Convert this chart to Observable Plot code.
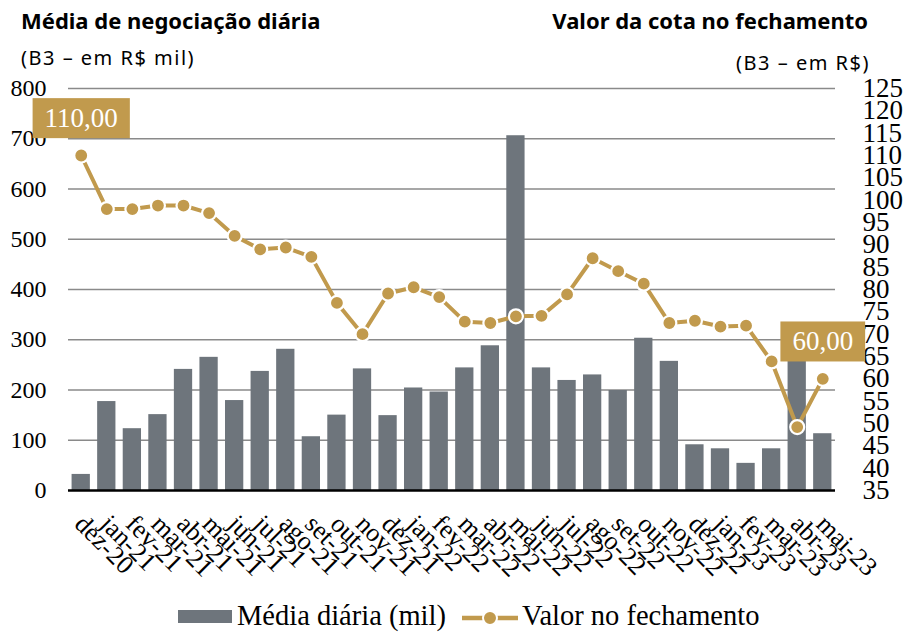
<!DOCTYPE html>
<html>
<head>
<meta charset="utf-8">
<script src="https://cdn.jsdelivr.net/npm/d3@7"></script>
<script src="https://cdn.jsdelivr.net/npm/@observablehq/plot@0.6"></script>
<style>
  html, body { margin: 0; padding: 0; background: #fff; }
  body { width: 910px; height: 632px; overflow: hidden; font-family: "Noto Sans", sans-serif; color: #000; }
  #hdr { position: relative; height: 78px; }
  #hdr div { position: absolute; white-space: nowrap; line-height: 1; }
  .ttl { font-weight: bold; font-size: 22px; top: 9px; }
  .sub { font-size: 20px; letter-spacing: 1.5px; }
  #chart { height: 517px; }
  #chart svg { display: block; }
  #legend { position: relative; height: 37px; font-family: "Liberation Serif", serif; font-size: 28.5px; }
  #legend > * { position: absolute; }
  #legend span { line-height: 28px; top: 7px; white-space: nowrap; }
</style>
</head>
<body>
<div id="hdr">
  <div class="ttl" style="left:21px">Média de negociação diária</div>
  <div class="ttl" style="right:42px">Valor da cota no fechamento</div>
  <div class="sub" style="left:21px; top:48px">(B3 – em R$ mil)</div>
  <div class="sub" style="right:40px; top:53px">(B3 – em R$)</div>
</div>
<div id="chart"></div>
<div id="legend"></div>
<script>
// ---- data ----
const months = ["dez-20","jan-21","fev-21","mar-21","abr-21","mai-21","jun-21","jul-21","ago-21","set-21","out-21","nov-21","dez-21","jan-22","fev-22","mar-22","abr-22","mai-22","jun-22","jul-22","ago-22","set-22","out-22","nov-22","dez-22","jan-23","fev-23","mar-23","abr-23","mai-23"];
const dailyAvg = [32,177,123,151,241,265,179,237,281,107,150,242,149,204,196,244,288,706,244,219,230,199,303,257,91,83,54,83,262,113];
const closeValue = [110,98,98,98.8,98.8,97.1,92,89,89.4,87.3,77,70,79.1,80.5,78.3,72.8,72.5,74,74.1,78.9,87,84.1,81.3,72.5,73,71.7,71.9,63.9,49.2,60];
const leftTicks = [0,100,200,300,400,500,600,700,800];
const rightTicks = [35,40,45,50,55,60,65,70,75,80,85,90,95,100,105,110,115,120,125];
const labelMonths = ["dez-20","mai-23"];
const labelTexts = ["110,00","60,00"];
const seriesNames = ["Média diária (mil)","Valor no fechamento"];

const barColor = "#6E757C";
const gold = "#C19A4D";

// right axis (35–125) shares the pixel range of the left axis (0–800)
const rMin = 35, rMax = 125, lMax = 800;
const toLeft = v => (v - rMin) * lMax / (rMax - rMin);
const toRight = v => v * (rMax - rMin) / lMax + rMin;

const data = months.map((m, i) => ({month: m, avg: dailyAvg[i], close: closeValue[i], closeY: toLeft(closeValue[i])}));
const labels = labelMonths.map((m, i) => ({month: m, closeY: toLeft(closeValue[months.indexOf(m)]), text: labelTexts[i]}));

const plot = Plot.plot({
  width: 910,
  height: 517,
  marginLeft: 68,
  marginRight: 75,
  marginTop: 10,
  marginBottom: 105,
  style: {background: "#fff", fontFamily: "'Liberation Serif', serif", color: "#000", overflow: "visible"},
  x: {type: "band", domain: months, paddingInner: 0.285, paddingOuter: 0.14, round: false, axis: null},
  y: {domain: [0, 800], axis: null},
  marks: [
    Plot.ruleY(leftTicks.filter(d => d > 0), {stroke: "#8a8a8a", strokeWidth: 1.3}),
    Plot.barY(data, {x: "month", y: "avg", fill: barColor}),
    Plot.ruleY([0], {stroke: "#000", strokeWidth: 2.5}),
    Plot.line(data, {x: "month", y: "closeY", stroke: gold, strokeWidth: 4}),
    Plot.dot(data, {x: "month", y: "closeY", r: 7, fill: gold, stroke: "#fff", strokeWidth: 2.2}),
    Plot.axisY(leftTicks, {anchor: "left", tickSize: 0, tickPadding: 22, fontSize: 24, label: null}),
    Plot.axisY(rightTicks.map(toLeft), {anchor: "right", tickSize: 0, tickPadding: 27, fontSize: 27, label: null,
      tickFormat: d => String(Math.round(toRight(d)))}),
    Plot.axisX(months, {anchor: "bottom", tickSize: 0, tickPadding: 29, tickRotate: 45, textAnchor: "start", lineAnchor: "middle", dx: -2, fontSize: 26, label: null}),
    Plot.text(labels, {x: "month", y: "closeY", text: "text", dy: -37, fill: "#fff", fontSize: 27, className: "vlabel"})
  ]
});
document.getElementById("chart").appendChild(plot);

// background boxes behind the value labels
d3.select(plot).selectAll("g.vlabel text").each(function() {
  const b = this.getBBox();
  const cy = b.y + b.height / 2;
  const parent = this.parentNode;
  const t = this.getAttribute("transform");
  const r = document.createElementNS("http://www.w3.org/2000/svg", "rect");
  r.setAttribute("x", b.x - 12);
  r.setAttribute("y", cy - 20);
  r.setAttribute("width", b.width + 24);
  r.setAttribute("height", 40);
  r.setAttribute("fill", gold);
  if (t) r.setAttribute("transform", t);
  parent.insertBefore(r, this);
});

// legend
const lg = document.getElementById("legend");
lg.innerHTML = `
  <div style="left:178px; top:15px; width:54px; height:13px; background:${barColor}"></div>
  <span style="left:237px">${seriesNames[0]}</span>
  <svg style="left:460px; top:14px" width="60" height="18">
    <line x1="2" y1="9" x2="58" y2="9" stroke="${gold}" stroke-width="4.5"/>
    <circle cx="30" cy="9" r="7" fill="${gold}" stroke="#fff" stroke-width="2"/>
  </svg>
  <span style="left:522px">${seriesNames[1]}</span>`;
</script>
</body>
</html>
